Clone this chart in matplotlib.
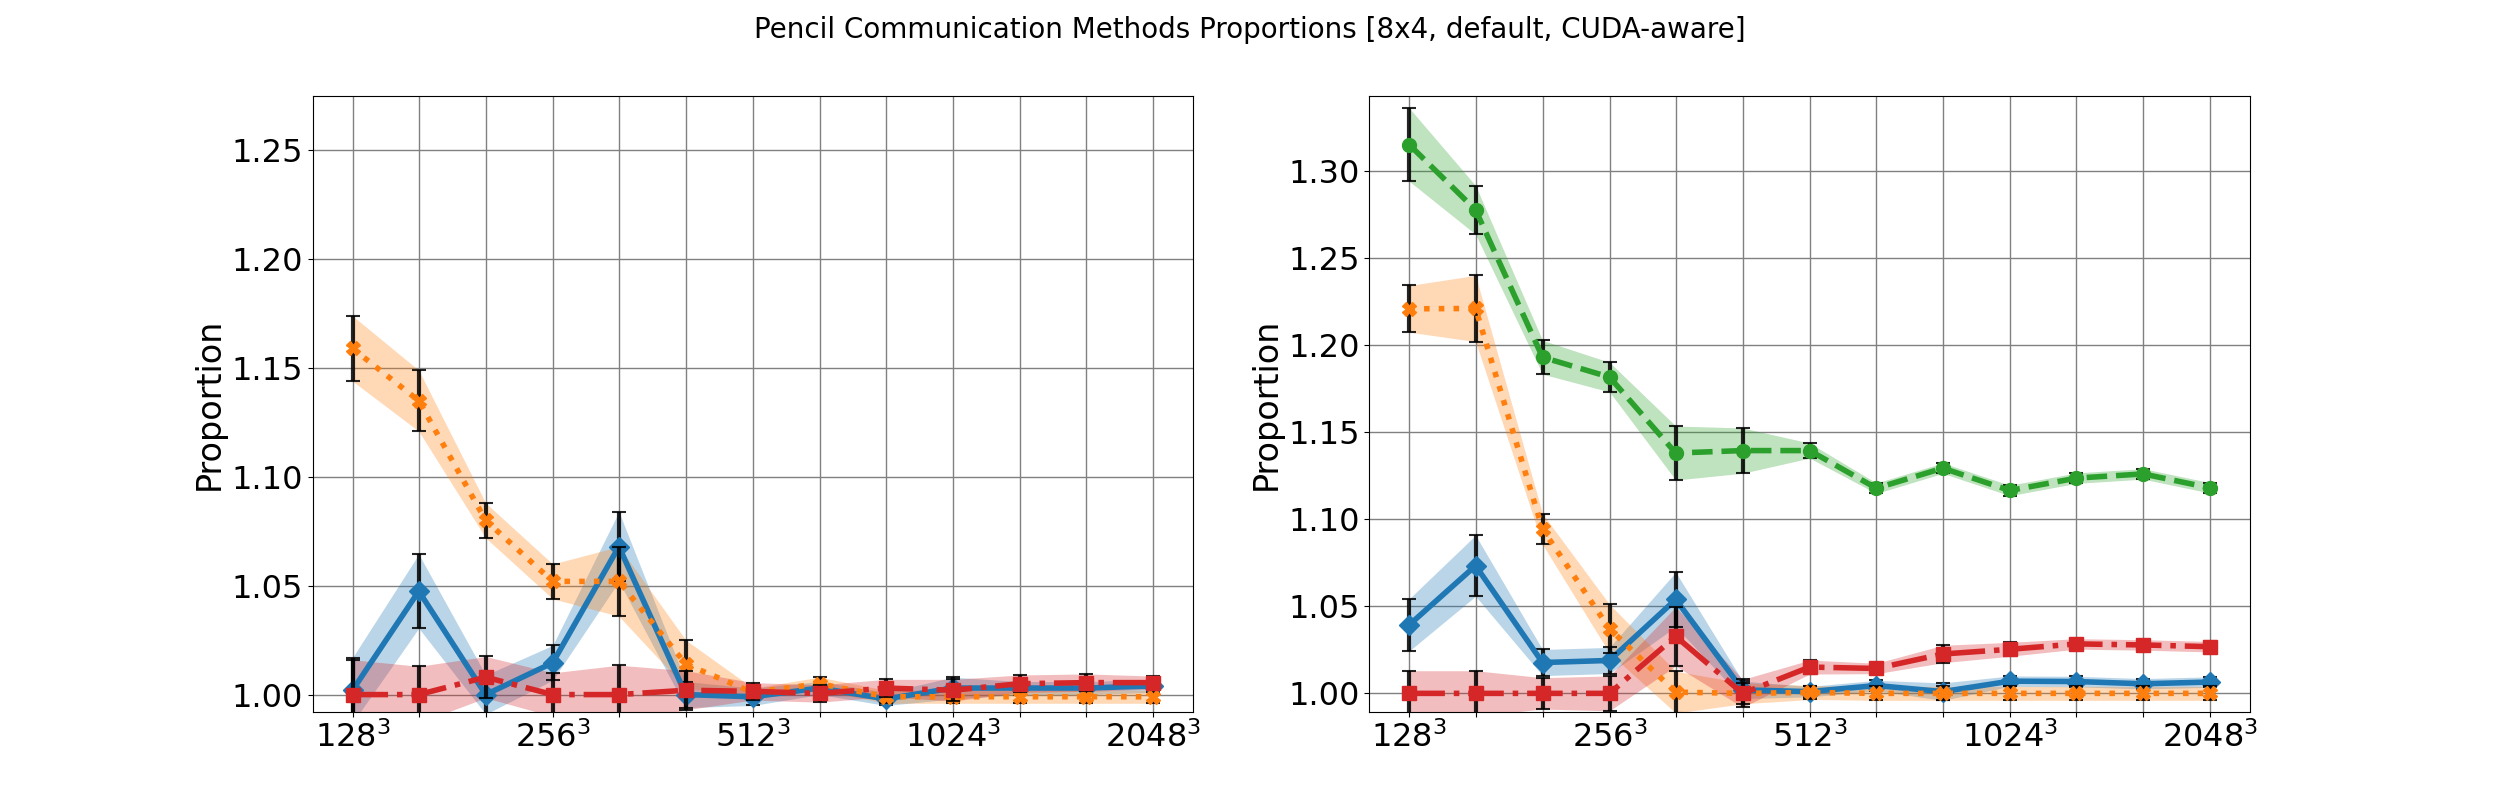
import matplotlib
matplotlib.use('Agg')
import matplotlib.pyplot as plt
import numpy as np

# tamaños del problema (lado de la malla)
sizes = [128, 161, 203, 256, 322, 406, 512, 645, 812, 1024, 1290, 1625, 2048]
labeled = [128, 256, 512, 1024, 2048]

# panel izquierdo
left_blue = [1.002, 1.0475, 1.000, 1.0146, 1.068, 1.000, 0.999, 1.003, 0.998, 1.003, 1.003, 1.003, 1.004]
left_blue_err = [0.015, 0.017, 0.009, 0.008, 0.016, 0.006, 0.004, 0.003, 0.003, 0.005, 0.003, 0.003, 0.003]
left_orange = [1.159, 1.135, 1.080, 1.052, 1.052, 1.014, 1.001, 1.005, 0.999, 0.999, 0.999, 0.999, 0.999]
left_orange_err = [0.015, 0.014, 0.008, 0.008, 0.016, 0.011, 0.002, 0.003, 0.003, 0.003, 0.003, 0.003, 0.003]
left_red = [1.000, 1.000, 1.008, 1.000, 1.000, 1.002, 1.0015, 1.0005, 1.003, 1.002, 1.005, 1.0055, 1.0055]
left_red_err = [0.016, 0.013, 0.0095, 0.010, 0.0135, 0.009, 0.004, 0.004, 0.004, 0.005, 0.004, 0.004, 0.003]

# panel derecho
right_blue = [1.0394, 1.0733, 1.0177, 1.0189, 1.0539, 1.002, 1.001, 1.0045, 1.001, 1.007, 1.0068, 1.0055, 1.0065]
right_blue_err = [0.015, 0.0175, 0.0075, 0.0075, 0.0157, 0.005, 0.003, 0.003, 0.005, 0.003, 0.003, 0.003, 0.003]
right_orange = [1.2208, 1.221, 1.0943, 1.0371, 1.0007, 1.000, 1.0005, 1.000, 1.000, 1.000, 1.000, 1.000, 1.000]
right_orange_err = [0.0134, 0.019, 0.0088, 0.014, 0.012, 0.006, 0.004, 0.004, 0.004, 0.004, 0.004, 0.004, 0.004]
right_green = [1.315, 1.2776, 1.193, 1.1816, 1.138, 1.1394, 1.1394, 1.1178, 1.1293, 1.1165, 1.1236, 1.126, 1.118]
right_green_err = [0.021, 0.014, 0.0097, 0.0085, 0.0155, 0.013, 0.0043, 0.003, 0.003, 0.003, 0.003, 0.003, 0.003]
right_red = [1.000, 1.000, 1.000, 1.000, 1.0327, 1.000, 1.0151, 1.0143, 1.0226, 1.0253, 1.0284, 1.0278, 1.0268]
right_red_err = [0.013, 0.013, 0.009, 0.010, 0.017, 0.008, 0.004, 0.003, 0.005, 0.004, 0.003, 0.003, 0.003]


def serie(ax, y, err, color, ls, marker):
    y = np.array(y)
    err = np.array(err)
    ax.fill_between(sizes, y - err, y + err, color=color, alpha=0.3, lw=0)
    ax.errorbar(sizes, y, yerr=err, fmt='none', ecolor='black', elinewidth=3,
                capsize=5, capthick=1.5, alpha=0.85)
    ax.plot(sizes, y, color=color, ls=ls, marker=marker, lw=4, ms=10)


fig, (ax1, ax2) = plt.subplots(1, 2, figsize=(25, 8), dpi=100)

serie(ax1, left_blue, left_blue_err, 'tab:blue', '-', 'D')
serie(ax1, left_orange, left_orange_err, 'tab:orange', ':', 'X')
serie(ax1, left_red, left_red_err, 'tab:red', '-.', 's')

serie(ax2, right_blue, right_blue_err, 'tab:blue', '-', 'D')
serie(ax2, right_orange, right_orange_err, 'tab:orange', ':', 'X')
serie(ax2, right_green, right_green_err, 'tab:green', '--', 'o')
serie(ax2, right_red, right_red_err, 'tab:red', '-.', 's')

ax1.set_ylim(0.992, 1.275)
ax2.set_ylim(0.9893, 1.343)

etiquetas = ['$%d^3$' % s if s in labeled else '' for s in sizes]
for ax in (ax1, ax2):
    ax.set_xscale('log', base=2)
    ax.minorticks_off()
    ax.set_xticks(sizes)
    ax.set_xticklabels(etiquetas)
    ax.tick_params(labelsize=23)
    ax.set_ylabel('Proportion', fontsize=24)
    ax.grid(True, color='gray', lw=1.0)
    ax.set_axisbelow(True)

fig.suptitle('Pencil Communication Methods Proportions [8x4, default, CUDA-aware]', fontsize=20)
fig.savefig('out.png')
